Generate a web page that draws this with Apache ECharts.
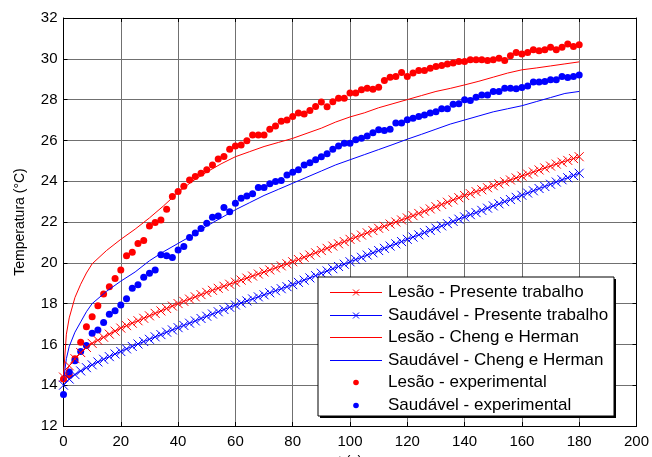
<!DOCTYPE html>
<html>
<head>
<meta charset="utf-8">
<script src="https://cdn.jsdelivr.net/npm/echarts@6/dist/echarts.min.js"></script>
<style>
  html, body { margin: 0; padding: 0; background: #fff; }
  #chart { width: 652px; height: 457px; }
</style>
</head>
<body>
<div id="chart"></div>
<script>
// Time samples (s) for the model curves and the measurements
const tModel = [0,2,4,6,8,10,12,14,16,18,20,22,24,26,28,30,32,34,36,38,40,42,44,46,48,50,52,54,56,58,60,62,64,66,68,70,72,74,76,78,80,82,84,86,88,90,92,94,96,98,100,102,104,106,108,110,112,114,116,118,120,122,124,126,128,130,132,134,136,138,140,142,144,146,148,150,152,154,156,158,160,162,164,166,168,170,172,174,176,178,180];
const tExp = tModel;
const tCheng = [0,1,2,4,6,8,10,15,20,25,30,35,40,45,50,55,60,65,70,75,80,85,90,95,100,105,110,115,120,125,130,135,140,145,150,155,160,165,170,175,180];

// Presente trabalho (°C)
const lesaoPresente = [14.4,14.95,15.3,15.6,15.85,16.05,16.2,16.35,16.5,16.65,16.8,16.92,17.04,17.16,17.28,17.4,17.52,17.64,17.76,17.88,18.0,18.11,18.22,18.33,18.44,18.55,18.65,18.75,18.85,18.95,19.05,19.15,19.25,19.35,19.45,19.55,19.65,19.75,19.85,19.95,20.05,20.16,20.27,20.38,20.49,20.6,20.71,20.82,20.93,21.04,21.15,21.25,21.36,21.47,21.58,21.69,21.79,21.9,22.0,22.1,22.2,22.31,22.42,22.53,22.64,22.75,22.86,22.97,23.08,23.19,23.3,23.39,23.49,23.58,23.68,23.78,23.87,23.97,24.06,24.16,24.25,24.35,24.45,24.55,24.65,24.74,24.84,24.93,25.02,25.11,25.2];
const saudavelPresente = [14.0,14.3,14.52,14.7,14.86,15.0,15.14,15.27,15.4,15.53,15.65,15.78,15.9,16.02,16.14,16.25,16.37,16.48,16.6,16.71,16.82,16.93,17.04,17.15,17.27,17.38,17.49,17.6,17.71,17.82,17.93,18.03,18.13,18.23,18.33,18.43,18.53,18.63,18.73,18.83,18.93,19.04,19.15,19.26,19.37,19.49,19.6,19.71,19.82,19.93,20.05,20.16,20.27,20.38,20.49,20.6,20.71,20.82,20.93,21.04,21.15,21.26,21.37,21.48,21.59,21.7,21.81,21.92,22.03,22.14,22.25,22.36,22.46,22.57,22.68,22.79,22.89,23.0,23.1,23.21,23.31,23.42,23.53,23.64,23.74,23.85,23.96,24.07,24.17,24.28,24.39];

// Cheng e Herman (°C)
const lesaoCheng = [14.5,16.5,17.3,18.3,18.95,19.5,19.95,20.6,21.15,21.65,22.2,22.8,23.45,24.0,24.45,24.85,25.2,25.45,25.7,25.9,26.1,26.35,26.6,26.9,27.15,27.35,27.6,27.8,28.0,28.2,28.4,28.55,28.72,28.9,29.1,29.3,29.46,29.55,29.65,29.75,29.85];
const saudavelCheng = [14.2,15.3,15.9,16.6,17.1,17.6,18.0,18.6,19.1,19.55,20.1,20.55,20.95,21.35,21.8,22.2,22.6,22.95,23.3,23.6,23.9,24.2,24.5,24.8,25.05,25.3,25.55,25.8,26.06,26.3,26.55,26.8,27.0,27.2,27.4,27.55,27.7,27.9,28.1,28.3,28.4];

// Experimental (°C)
const lesaoExp = [14.3,14.5,15.3,16.1,16.87,17.35,17.89,18.47,18.82,19.23,19.65,20.34,20.52,20.94,21.09,21.81,21.97,22.1,22.63,23.25,23.49,23.75,24.06,24.23,24.39,24.56,24.8,25.09,25.21,25.57,25.73,25.78,25.98,26.27,26.27,26.27,26.55,26.71,26.94,27.0,27.17,27.34,27.3,27.46,27.66,27.88,27.65,27.9,28.07,28.07,28.32,28.32,28.48,28.56,28.51,28.61,28.94,29.1,29.13,29.33,29.13,29.3,29.43,29.43,29.54,29.62,29.67,29.75,29.8,29.87,29.87,29.95,29.95,29.95,29.92,29.95,30.03,29.92,30.15,30.31,30.23,30.31,30.44,30.39,30.44,30.57,30.44,30.57,30.72,30.6,30.69];
const saudavelExp = [13.55,14.65,15.2,15.65,15.95,16.55,16.7,17.07,17.48,17.65,17.93,18.24,18.75,18.92,19.29,19.49,19.65,20.39,20.34,20.26,20.63,20.8,21.24,21.46,21.68,21.94,22.23,22.3,22.71,22.5,22.92,23.17,23.28,23.38,23.69,23.69,23.87,23.98,24.03,24.31,24.44,24.56,24.8,24.91,25.05,25.2,25.34,25.57,25.73,25.86,25.86,26.03,26.11,26.22,26.38,26.52,26.48,26.55,26.85,26.85,27.01,27.09,27.17,27.25,27.34,27.41,27.55,27.55,27.77,27.8,27.99,27.95,28.12,28.23,28.23,28.4,28.4,28.56,28.56,28.53,28.59,28.67,28.86,28.86,28.89,28.97,28.97,29.13,29.08,29.13,29.21];

const seriesNames = [
  'Lesão - Presente trabalho',
  'Saudável - Presente trabalho',
  'Lesão - Cheng e Herman',
  'Saudável - Cheng e Herman',
  'Lesão - experimental',
  'Saudável - experimental'
];

const RED = '#ff0000';
const BLUE = '#0000ff';
const FONT = 'Liberation Sans, Arial, sans-serif';
const CROSS = 'path://M0,0L10,10M10,0L0,10';

function pairs(ts, vs) { return ts.map((t, i) => [t, vs[i]]); }

function modelSeries(name, color, ts, vs) {
  return {
    name, type: 'line', data: pairs(ts, vs),
    symbol: CROSS, symbolSize: 9, showSymbol: true,
    lineStyle: { color, width: 1 },
    itemStyle: { color: 'rgba(0,0,0,0)', borderColor: color, borderWidth: 1 },
    animation: false, silent: true
  };
}
function lineSeries(name, color, ts, vs) {
  return {
    name, type: 'line', data: pairs(ts, vs), symbol: 'none',
    lineStyle: { color, width: 1 }, itemStyle: { color },
    animation: false, silent: true
  };
}
function dotSeries(name, color, ts, vs) {
  return {
    name, type: 'scatter', data: pairs(ts, vs), symbol: 'circle', symbolSize: 7,
    itemStyle: { color, opacity: 1 }, animation: false, silent: true
  };
}

// Legend box drawn as graphic elements
const LG = { left: 318, top: 277, width: 296, height: 139, rowY0: 292, rowStep: 22.6, x0: 330, x1: 382, textX: 388 };
const legendKinds = [
  { color: RED, line: true, mark: 'cross' },
  { color: BLUE, line: true, mark: 'cross' },
  { color: RED, line: true, mark: null },
  { color: BLUE, line: true, mark: null },
  { color: RED, line: false, mark: 'dot' },
  { color: BLUE, line: false, mark: 'dot' }
];
const legendElems = [
  { type: 'rect', shape: { x: LG.left + 2, y: LG.top + 2, width: LG.width, height: LG.height }, style: { fill: '#000' }, z: 100 },
  { type: 'rect', shape: { x: LG.left, y: LG.top, width: LG.width, height: LG.height }, style: { fill: '#fff', stroke: '#000', lineWidth: 1 }, z: 101 }
];
legendKinds.forEach((k, i) => {
  const y = Math.round(LG.rowY0 + i * LG.rowStep) + 0.5;
  const cx = (LG.x0 + LG.x1) / 2;
  if (k.line) {
    legendElems.push({ type: 'line', shape: { x1: LG.x0, y1: y, x2: LG.x1, y2: y }, style: { stroke: k.color, lineWidth: 1 }, z: 102 });
  }
  if (k.mark === 'cross') {
    legendElems.push({ type: 'polyline', shape: { points: [[cx - 3, y - 3], [cx + 3, y + 3]] }, style: { stroke: k.color, lineWidth: 1 }, z: 102 });
    legendElems.push({ type: 'polyline', shape: { points: [[cx + 3, y - 3], [cx - 3, y + 3]] }, style: { stroke: k.color, lineWidth: 1 }, z: 102 });
  } else if (k.mark === 'dot') {
    legendElems.push({ type: 'circle', shape: { cx, cy: y, r: 2.8 }, style: { fill: k.color }, z: 102 });
  }
  legendElems.push({ type: 'text', x: LG.textX, y, style: { text: seriesNames[i], fill: '#000', font: '17px ' + FONT, textVerticalAlign: 'middle', verticalAlign: 'middle' }, z: 102 });
});

const chart = echarts.init(document.getElementById('chart'), null, { renderer: 'canvas' });
const axisBase = {
  type: 'value',
  axisLine: { show: true, onZero: false, lineStyle: { color: '#000', width: 1 } },
  axisTick: { show: true, inside: true, length: 4, lineStyle: { color: '#000' } },
  axisLabel: { color: '#000', fontSize: 15, fontFamily: FONT },
  splitLine: { show: true, lineStyle: { color: '#707070', width: 1 } }
};
chart.setOption({
  animation: false,
  backgroundColor: '#fff',
  grid: { left: 63.5, right: 15.5, top: 18, bottom: 31, containLabel: false, outerBoundsMode: 'none' },
  xAxis: [
    Object.assign({}, axisBase, {
      min: 0, max: 200, interval: 20, position: 'bottom',
      axisLabel: Object.assign({}, axisBase.axisLabel, { margin: 8 }),
      name: 't (s)', nameLocation: 'middle', nameGap: 27,
      nameTextStyle: { color: '#000', fontSize: 14, fontFamily: FONT, verticalAlign: 'top', lineHeight: 16 }
    }),
    Object.assign({}, axisBase, {
      min: 0, max: 200, interval: 20, position: 'top',
      axisLabel: { show: false }, splitLine: { show: false }
    })
  ],
  yAxis: [
    Object.assign({}, axisBase, {
      min: 12, max: 32, interval: 2, position: 'left',
      axisLabel: Object.assign({}, axisBase.axisLabel, { margin: 6 }),
      name: 'Temperatura (°C)', nameLocation: 'middle', nameGap: 36,
      nameTextStyle: { color: '#000', fontSize: 14, fontFamily: FONT }
    }),
    Object.assign({}, axisBase, {
      min: 12, max: 32, interval: 2, position: 'right',
      axisLabel: { show: false }, splitLine: { show: false }
    })
  ],
  series: [
    modelSeries(seriesNames[0], RED, tModel, lesaoPresente),
    modelSeries(seriesNames[1], BLUE, tModel, saudavelPresente),
    lineSeries(seriesNames[2], RED, tCheng, lesaoCheng),
    lineSeries(seriesNames[3], BLUE, tCheng, saudavelCheng),
    dotSeries(seriesNames[4], RED, tExp, lesaoExp),
    dotSeries(seriesNames[5], BLUE, tExp, saudavelExp)
  ],
  graphic: { elements: legendElems }
});
</script>
</body>
</html>
